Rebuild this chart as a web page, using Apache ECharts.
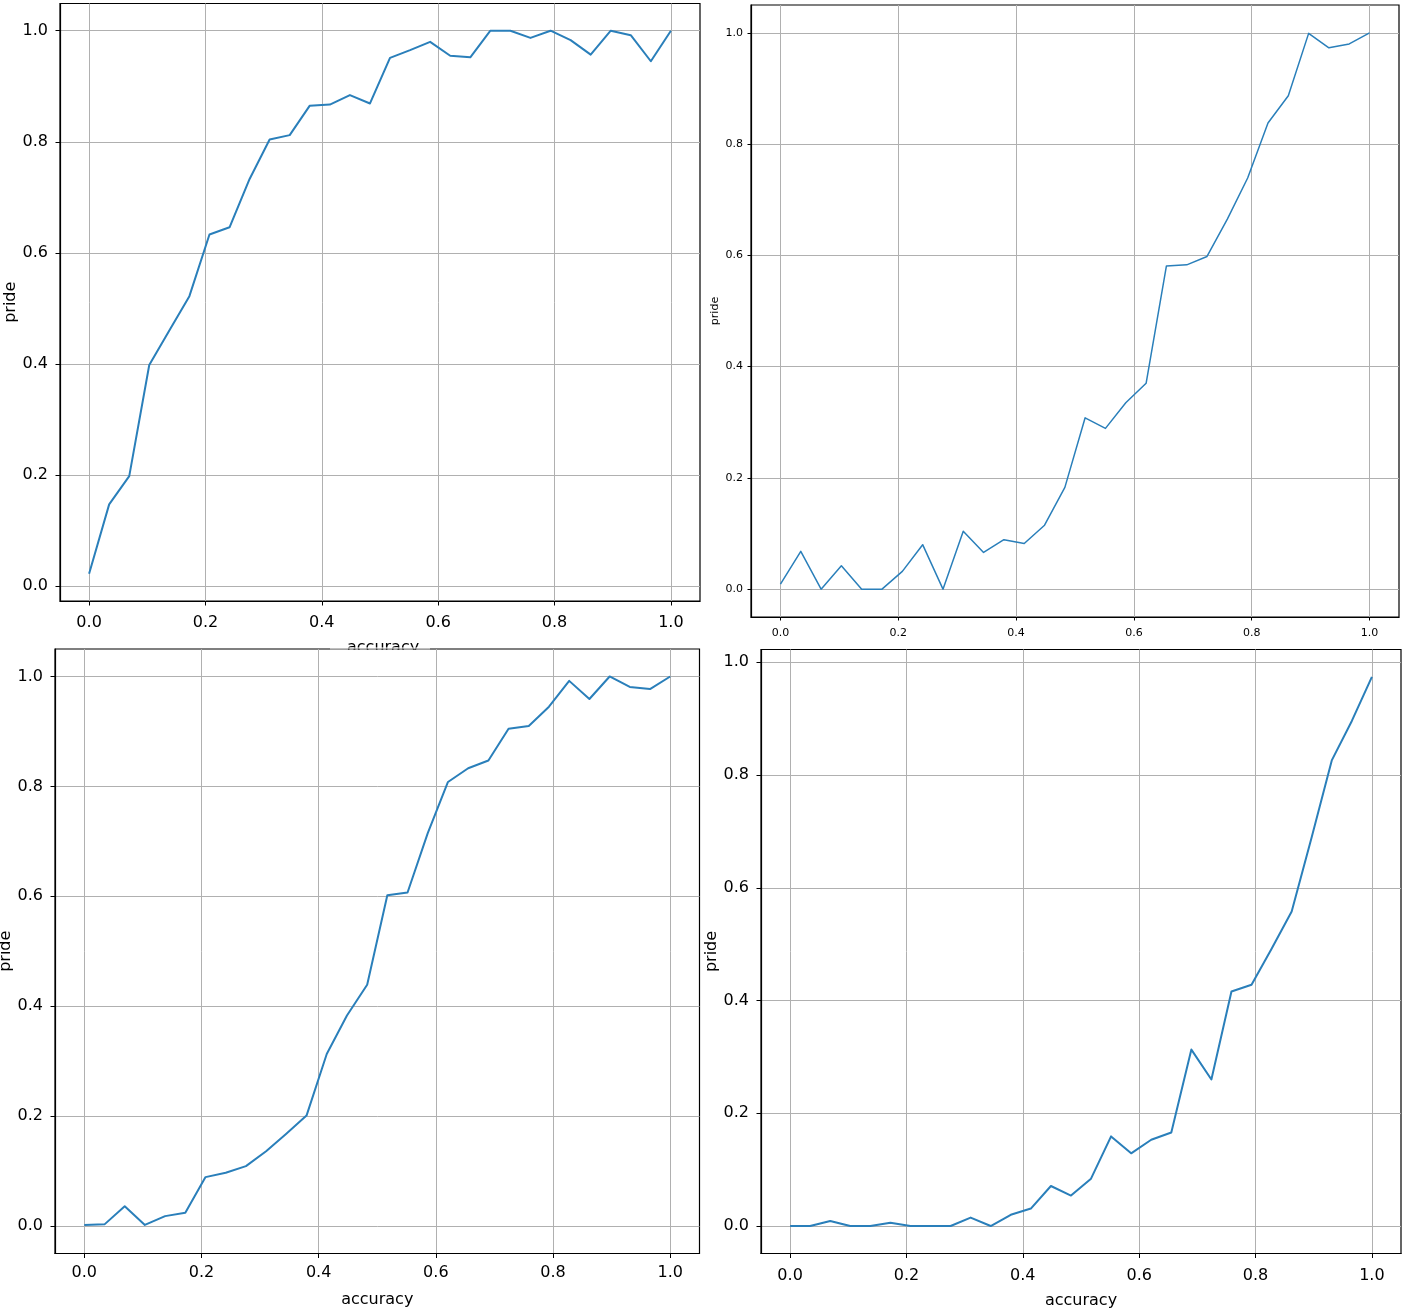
<!DOCTYPE html>
<html><head><meta charset="utf-8">
<script src="https://cdn.jsdelivr.net/npm/echarts@6/dist/echarts.min.js"></script>
<style>html,body{margin:0;padding:0;background:#fff}#c{width:1404px;height:1310px}</style>
</head><body><div id="c"></div>
<script>
// shared x positions (accuracy samples)
const accuracy = [0, 0.0345, 0.069, 0.1034, 0.1379, 0.1724, 0.2069, 0.2414, 0.2759, 0.3103,
  0.3448, 0.3793, 0.4138, 0.4483, 0.4828, 0.5172, 0.5517, 0.5862, 0.6207, 0.6552,
  0.6897, 0.7241, 0.7586, 0.7931, 0.8276, 0.8621, 0.8966, 0.931, 0.9655, 1];
const prideTopLeft = [0.022, 0.147, 0.198, 0.398, 0.46, 0.522, 0.633, 0.646, 0.733, 0.804,
  0.812, 0.865, 0.867, 0.884, 0.869, 0.951, 0.965, 0.980, 0.955, 0.952,
  1.0, 1.0, 0.987, 1.0, 0.983, 0.957, 1.0, 0.992, 0.945, 1.0];
const prideTopRight = [0.009, 0.068, 0, 0.042, 0, 0, 0.032, 0.080, 0, 0.104,
  0.066, 0.089, 0.082, 0.115, 0.183, 0.308, 0.289, 0.335, 0.370, 0.581,
  0.583, 0.598, 0.665, 0.739, 0.838, 0.887, 0.999, 0.973, 0.980, 1.0];
const prideBottomLeft = [0.002, 0.003, 0.036, 0.002, 0.018, 0.024, 0.089, 0.097, 0.109, 0.136,
  0.168, 0.201, 0.313, 0.383, 0.439, 0.602, 0.607, 0.715, 0.808, 0.833,
  0.847, 0.905, 0.910, 0.945, 0.992, 0.959, 1.0, 0.981, 0.977, 1.0];
const prideBottomRight = [0, 0, 0.009, 0, 0, 0.006, 0, 0, 0, 0.015,
  0, 0.020, 0.031, 0.071, 0.054, 0.084, 0.159, 0.129, 0.153, 0.166,
  0.313, 0.260, 0.416, 0.428, 0.492, 0.558, 0.69, 0.826, 0.896, 0.974];
const tickValues = [0, 0.2, 0.4, 0.6, 0.8, 1.0];
const xLabel = 'accuracy';
const yLabel = 'pride';

const FONT = "'DejaVu Sans', sans-serif";
const panels = [
  {data: prideTopLeft, grid: {left: 60, top: 3.5, width: 640, height: 597.5}, ymin: -0.027, ymax: 1.049,
   fs: 16, lw: 2, xName: '', xGap: 38, yGap: 38, xMargin: 14, yMargin: 12, tick: 4.5},
  {data: prideTopRight, grid: {left: 751, top: 5, width: 648, height: 612}, ymin: -0.05, ymax: 1.05,
   fs: 11, lw: 1.5, xName: '', xGap: 30, yGap: 30, xMargin: 11, yMargin: 8, tick: 3.5},
  {data: prideBottomLeft, grid: {left: 55, top: 649, width: 644.5, height: 604.5}, ymin: -0.05, ymax: 1.05,
   fs: 16, lw: 2, xName: xLabel, xGap: 38, yGap: 38, xMargin: 11, yMargin: 12, tick: 4.5},
  {data: prideBottomRight, grid: {left: 761, top: 649.5, width: 640, height: 604}, ymin: -0.0487, ymax: 1.0227,
   fs: 16, lw: 2, xName: xLabel, xGap: 39, yGap: 40, xMargin: 14, yMargin: 12, tick: 4.5}
];

const grids = [], xAxes = [], yAxes = [], series = [];
panels.forEach((p, i) => {
  grids.push(Object.assign({show: true, borderColor: '#000', borderWidth: 1.2,
    backgroundColor: 'transparent', containLabel: false, outerBoundsMode: 'none'}, p.grid));
  const common = {
    gridIndex: i, type: 'value',
    axisLine: {show: true, onZero: false, lineStyle: {color: '#000', width: 1.2}},
    axisTick: {show: true, inside: false, customValues: tickValues, length: p.tick, lineStyle: {color: '#000', width: 1}},
    axisLabel: {customValues: tickValues, formatter: v => v.toFixed(1), fontSize: p.fs,
      fontFamily: FONT, color: '#000'},
    splitLine: {show: true, lineStyle: {color: '#b0b0b0', width: 1}},
    nameLocation: 'middle',
    nameTextStyle: {fontSize: p.fs, fontFamily: FONT, color: '#000'}
  };
  xAxes.push(Object.assign({}, common, {
    position: 'bottom',
    min: -0.05, max: 1.05, name: p.xName, nameGap: p.xGap,
    axisLabel: Object.assign({}, common.axisLabel, {margin: p.xMargin})
  }));
  yAxes.push(Object.assign({}, common, {
    position: 'left',
    min: p.ymin, max: p.ymax, name: yLabel, nameGap: p.yGap,
    axisLabel: Object.assign({}, common.axisLabel, {margin: p.yMargin})
  }));
  series.push({
    type: 'line', xAxisIndex: i, yAxisIndex: i,
    data: accuracy.map((x, k) => [x, p.data[k]]),
    showSymbol: false, symbol: 'none', animation: false,
    lineStyle: {color: '#2a7fba', width: p.lw, join: 'round'}
  });
});

const chart = echarts.init(document.getElementById('c'), null, {renderer: 'canvas'});
chart.setOption({
  animation: false,
  backgroundColor: '#fff',
  grid: grids, xAxis: xAxes, yAxis: yAxes, series: series,
  graphic: [
    {type: 'text', left: 347, top: 640, z: 50,
     style: {text: xLabel, fontSize: 16, fontFamily: FONT, fill: '#000'}},
    {type: 'rect', shape: {x: 330, y: 647.6, width: 100, height: 0.8}, z: 51,
     style: {fill: '#fff'}},
    {type: 'rect', shape: {x: 330, y: 649.7, width: 100, height: 14}, z: 51,
     style: {fill: '#fff'}}
  ]
});
</script></body></html>
